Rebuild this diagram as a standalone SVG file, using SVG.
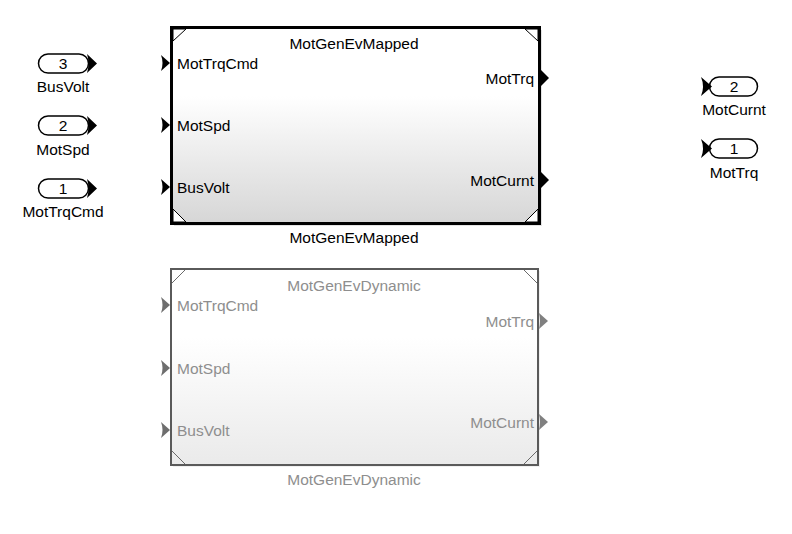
<svg xmlns="http://www.w3.org/2000/svg" width="792" height="534" viewBox="0 0 792 534">
<defs>
<linearGradient id="gMain" x1="0" y1="0" x2="0" y2="1">
<stop offset="0" stop-color="#ffffff"/>
<stop offset="0.35" stop-color="#ffffff"/>
<stop offset="1" stop-color="#d6d6d6"/>
</linearGradient>
<linearGradient id="gDyn" x1="0" y1="0" x2="0" y2="1">
<stop offset="0" stop-color="#ffffff"/>
<stop offset="0.35" stop-color="#ffffff"/>
<stop offset="1" stop-color="#eaeaea"/>
</linearGradient>
<style>
text{font-family:"Liberation Sans",Arial,sans-serif;font-size:15.5px;fill:#000}
.g text{fill:#8e8e8e}
.pill{fill:#fff;stroke:#000;stroke-width:1.5}
.blk{fill:#000}
.mid{text-anchor:middle}
.end{text-anchor:end}
</style>
</defs>
<rect width="792" height="534" fill="#fff"/>

<g id="connectors"/>

<g id="in3">
<rect class="pill" x="38.5" y="54" width="50" height="19" rx="9.5"/>
<path class="blk" d="M87,54 L97,63.5 L87,73 Q90,63.5 87,54 Z"/>
<text class="mid" x="63" y="69">3</text>
<text class="mid" x="63" y="92">BusVolt</text>
</g>
<g id="in2">
<rect class="pill" x="38.5" y="116" width="50" height="19" rx="9.5"/>
<path class="blk" d="M87,116 L97,125.5 L87,135 Q90,125.5 87,116 Z"/>
<text class="mid" x="63" y="131">2</text>
<text class="mid" x="63" y="155">MotSpd</text>
</g>
<g id="in1">
<rect class="pill" x="38.5" y="179" width="50" height="19" rx="9.5"/>
<path class="blk" d="M87,179 L97,188.5 L87,198 Q90,188.5 87,179 Z"/>
<text class="mid" x="63" y="194">1</text>
<text class="mid" x="63" y="217">MotTrqCmd</text>
</g>

<g id="out2">
<rect class="pill" x="709.5" y="77" width="48" height="19" rx="9.5"/>
<path class="blk" d="M701,77 L712,86.5 L701,96 Q705,86.5 701,77 Z"/>
<text class="mid" x="734" y="92">2</text>
<text class="mid" x="734" y="115">MotCurnt</text>
</g>
<g id="out1">
<rect class="pill" x="709.5" y="139" width="48" height="19" rx="9.5"/>
<path class="blk" d="M701,139 L712,148.5 L701,158 Q705,148.5 701,139 Z"/>
<text class="mid" x="734" y="154">1</text>
<text class="mid" x="734" y="178">MotTrq</text>
</g>

<g id="MotGenEvMapped">
<rect x="174" y="30" width="368" height="196" fill="#e4e4e4"/>
<rect x="171.5" y="27.5" width="368" height="196" fill="url(#gMain)" stroke="#000" stroke-width="3"/>
<path d="M173,41 L186,29 L173,29 Z" fill="#fff" stroke="#000" stroke-width="1"/>
<path d="M538,41 L525,29 L538,29 Z" fill="#fff" stroke="#000" stroke-width="1"/>
<path d="M173,209 L186,222 L173,222 Z" fill="#fff" stroke="#000" stroke-width="1"/>
<path d="M538,209 L525,222 L538,222 Z" fill="#fff" stroke="#000" stroke-width="1"/>
<path class="blk" d="M161,55 L170,63 L161,71 Q164,63 161,55 Z"/>
<path class="blk" d="M161,117 L170,125 L161,133 Q164,125 161,117 Z"/>
<path class="blk" d="M161,179 L170,187 L161,195 Q164,187 161,179 Z"/>
<path class="blk" d="M540,69 L549,78 L540,87 Z"/>
<path class="blk" d="M540,171 L549,180 L540,189 Z"/>
<text class="mid" x="354" y="49">MotGenEvMapped</text>
<text x="177" y="69">MotTrqCmd</text>
<text x="177" y="131">MotSpd</text>
<text x="177" y="193">BusVolt</text>
<text class="end" x="534" y="84">MotTrq</text>
<text class="end" x="534" y="186">MotCurnt</text>
<text class="mid" x="354" y="243">MotGenEvMapped</text>
</g>

<g id="MotGenEvDynamic" class="g">
<rect x="173" y="271" width="367" height="196" fill="#f0f0f0"/>
<rect x="171" y="269" width="367" height="196" fill="url(#gDyn)" stroke="#5a5a5a" stroke-width="2"/>
<path d="M172,283 L185,270" stroke="#6a6a6a" stroke-width="1" fill="none"/>
<path d="M537,283 L524,270" stroke="#6a6a6a" stroke-width="1" fill="none"/>
<path d="M172,451 L185,464" stroke="#6a6a6a" stroke-width="1" fill="none"/>
<path d="M537,451 L524,464" stroke="#6a6a6a" stroke-width="1" fill="none"/>
<path d="M161,297 L170,305 L161,313 Q164,305 161,297 Z" fill="#6e6e6e"/>
<path d="M161,360 L170,368 L161,376 Q164,368 161,360 Z" fill="#6e6e6e"/>
<path d="M161,422 L170,430 L161,438 Q164,430 161,422 Z" fill="#6e6e6e"/>
<path d="M539,313 L548,321 L539,329 Q541,321 539,313 Z" fill="#808080"/>
<path d="M539,414 L548,422 L539,430 Q541,422 539,414 Z" fill="#808080"/>
<text class="mid" x="354" y="291">MotGenEvDynamic</text>
<text x="177" y="311">MotTrqCmd</text>
<text x="177" y="374">MotSpd</text>
<text x="177" y="436">BusVolt</text>
<text class="end" x="534" y="327">MotTrq</text>
<text class="end" x="534" y="428">MotCurnt</text>
<text class="mid" x="354" y="485">MotGenEvDynamic</text>
</g>
</svg>
